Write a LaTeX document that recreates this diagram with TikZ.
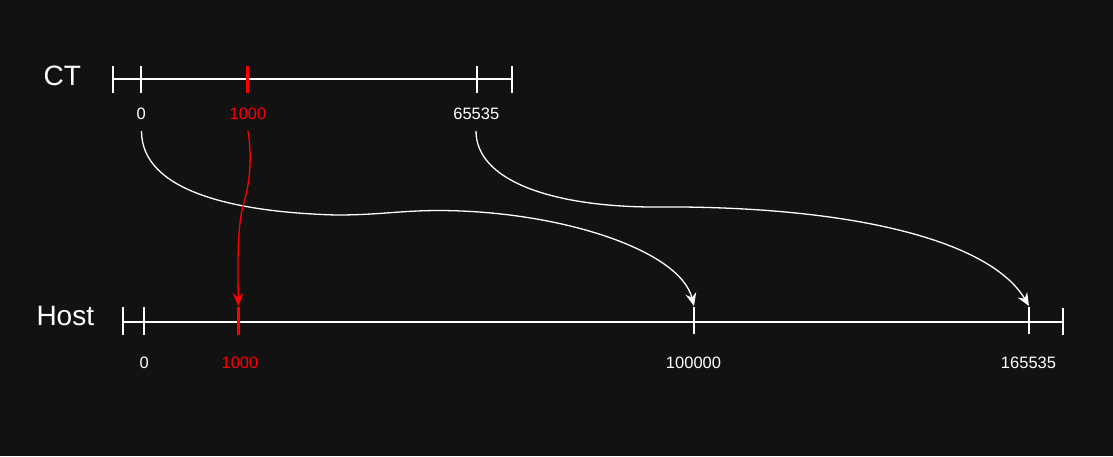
\documentclass[tikz,border=0pt]{standalone}
\usepackage{fontspec}
\setmainfont{Liberation Sans}
\usetikzlibrary{arrows.meta}
\definecolor{bg}{RGB}{18,18,18}
\definecolor{hot}{RGB}{255,0,0}
\tikzset{
  axisline/.style={draw=white, line width=2.2pt},
  tickmark/.style={draw=white, line width=2.2pt},
  hottick/.style={draw=hot, line width=2.8pt},
  numlabel/.style={text=white, font=\fontsize{16.5}{19}\selectfont, inner sep=0pt},
  hotlabel/.style={numlabel, text=hot},
  titlelabel/.style={text=white, font=\fontsize{28}{32}\selectfont, inner sep=0pt},
  mapcurve/.style={draw=white, line width=1.3pt, -{Stealth[length=13pt,width=11pt,inset=4.5pt]}},
  hotcurve/.style={draw=hot, line width=1.3pt, -{Stealth[length=13pt,width=11pt,inset=4.5pt]}}
}
\begin{document}
\begin{tikzpicture}[x=1pt,y=-1pt]
\fill[bg] (0,0) rectangle (1113,456);
\useasboundingbox (0,0) rectangle (1113,456);

% titles
\node[titlelabel] (ct) at (62.3,76) {CT};
\node[titlelabel] (host) at (65.3,316) {Host};

% CT axis
\coordinate (ctL) at (112.7,79);
\coordinate (ctR) at (511.7,79);
\draw[axisline] (ctL) -- (ctR);
\draw[tickmark] (112.7,66) -- (112.7,93);
\draw[tickmark] (511.7,66) -- (511.7,93);
\draw[tickmark] (141.3,66) -- (141.3,93);
\draw[tickmark] (476.7,66) -- (476.7,93);
\draw[hottick] (247.3,66) -- (247.3,93);

% Host axis
\coordinate (hL) at (123.3,321.7);
\coordinate (hR) at (1063.3,321.7);
\draw[axisline] (hL) -- (hR);
\draw[tickmark] (123.3,307) -- (123.3,335);
\draw[tickmark] (1063.3,307.5) -- (1063.3,335);
\draw[tickmark] (144.3,307) -- (144.3,335);
\coordinate (t100k) at (694,306);
\coordinate (t165k) at (1029,306);
\coordinate (t1000) at (238.3,306);
\draw[tickmark] (694,307) -- (694,334);
\draw[tickmark] (1029,307) -- (1029,334);
\draw[hottick] (238.3,306.5) -- (238.3,335);

% labels
\node[numlabel] (c0) at (141.3,113.7) {0};
\node[hotlabel] (c1000) at (248,113.7) {1000};
\node[numlabel] (c65535) at (476.3,113.7) {65535};
\node[numlabel] (h0) at (144.3,363.3) {0};
\node[hotlabel] (h1000) at (240,363.3) {1000};
\node[numlabel] (h100k) at (693.5,363.3) {100000};
\node[numlabel] (h165k) at (1028.5,363.3) {165535};

% curve start points just below labels
\coordinate (s0) at (141.5,131);
\coordinate (s1000) at (248,131);
\coordinate (s65535) at (476,131);

% mapping curves
\draw[mapcurve] (s0) .. controls (141.5,190) and (230,212) .. (336,215)
  .. controls (380,215) and (400,210.5) .. (440,210.5)
  .. controls (560,211) and (680,250) .. (t100k);
\draw[mapcurve] (s65535) .. controls (476,180) and (550,206) .. (650,207)
  .. controls (850,205) and (990,240) .. (t165k);
\draw[hotcurve] (s1000) .. controls (254,170) and (246,195) .. (242,210)
  .. controls (237,235) and (238,270) .. (t1000);
\end{tikzpicture}
\end{document}
